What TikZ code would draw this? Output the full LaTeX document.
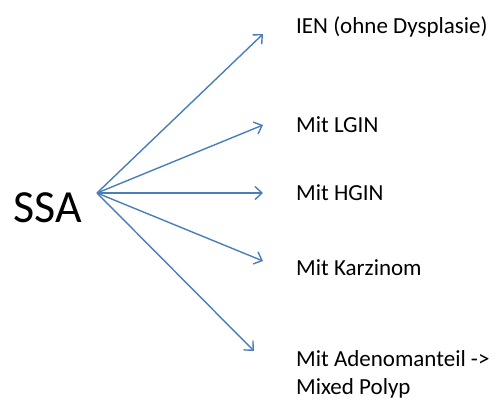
\documentclass[tikz,border=0pt]{standalone}
\usepackage{fontspec}
\setmainfont{Carlito}
\usetikzlibrary{arrows.meta}
\definecolor{conn}{HTML}{4A7EBB}
\begin{document}
\begin{tikzpicture}[x=1pt,y=-1pt,
  label/.style={anchor=base west,inner sep=0pt,font=\fontsize{23}{28}\selectfont,align=left},
  branch/.style={draw=conn,line width=1.4pt,-{Straight Barb[length=7pt,width=13pt,line width=1.4pt]}}]
  \useasboundingbox (0,0) rectangle (501,400);
  \node[anchor=base west,inner sep=0pt,font=\fontsize{46}{55}\selectfont] (ssa) at (13,222) {SSA};
  \coordinate (root) at (97,193);
  \coordinate (t1) at (263,34);
  \coordinate (t2) at (263,125);
  \coordinate (t3) at (263,193);
  \coordinate (t4) at (263,261);
  \coordinate (t5) at (254,351);
  \node[label] (ien) at (296,33) {IEN (ohne Dysplasie)};
  \node[label] (lgin) at (296,132) {Mit LGIN};
  \node[label] (hgin) at (296,200) {Mit HGIN};
  \node[label] (karz) at (296,275) {Mit Karzinom};
  % two-line label: its base anchor sits on the last line
  \node[label] (aden) at (296,394) {Mit Adenomanteil ->\\Mixed Polyp};
  \foreach \t in {t1,t2,t3,t4,t5}
    \draw[branch] (root) -- (\t);
\end{tikzpicture}
\end{document}
